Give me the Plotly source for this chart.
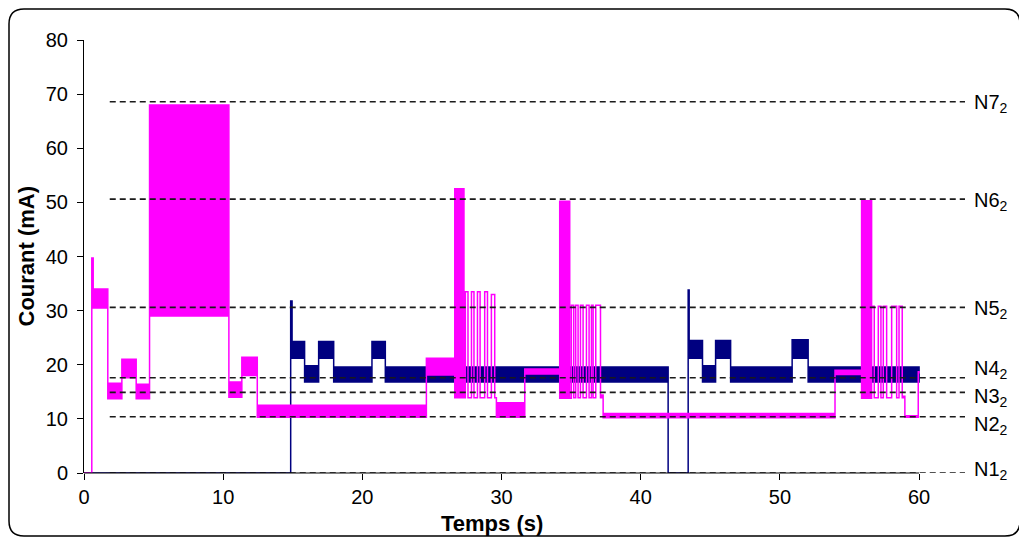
import plotly.graph_objects as go

# ---------------- data ----------------
# Magenta series: contiguous segments (edges), band low / high values (mA)
mag_edges = [0, 0.56, 0.66, 1.71, 2.72, 3.75, 4.71, 10.41, 11.34, 12.45, 24.60, 26.64, 27.30,
             27.40, 27.59, 27.84, 28.02, 28.27, 28.46, 28.79, 28.99, 29.27, 29.51, 29.63,
             31.67, 34.18, 34.90, 35.02, 35.19, 35.33, 35.50, 35.67, 35.86, 36.10, 36.29,
             36.46, 36.58, 36.77, 37.11, 37.30, 53.96, 55.87, 56.59, 56.78, 57.07, 57.26,
             57.43, 57.67, 58.03, 58.39, 58.56, 58.79, 58.98, 59.94, 60.0]
mag_low = [0, 30.5, 30.5, 13.7, 17.6, 13.7, 29.0, 14.0, 18.0, 10.3, 18.1, 13.9,
           13.9, 33.5, 13.9, 33.5, 13.9, 33.5, 13.9, 33.5, 13.9, 33.0, 13.9,
           10.3, 18.3, 13.8, 13.8, 31.0, 13.9, 31.0, 13.9, 31.0, 13.9, 31.0, 13.9,
           31.0, 13.9, 31.0, 13.9, 10.2, 18.2, 13.8, 30.8, 13.9, 30.8, 13.9,
           30.8, 13.9, 30.8, 13.9, 30.8, 13.9, 10.3, 18.5]
mag_high = [0, 39.7, 34.0, 16.6, 21.0, 16.4, 68.0, 16.8, 21.4, 12.5, 21.2, 52.5,
            13.9, 33.5, 13.9, 33.5, 13.9, 33.5, 13.9, 33.5, 13.9, 33.0, 13.9,
            13.0, 19.2, 50.2, 13.8, 31.0, 13.9, 31.0, 13.9, 31.0, 13.9, 31.0, 13.9,
            31.0, 13.9, 31.0, 14.4, 11.0, 19.0, 50.3, 30.8, 13.9, 30.8, 13.9,
            30.8, 13.9, 30.8, 13.9, 30.8, 14.2, 10.6, 18.7]

# Navy series
nav_edges = [0, 14.85, 14.95, 15.85, 16.86, 17.94, 20.69, 21.65, 41.97, 43.41, 43.48,
             44.44, 45.38, 46.46, 50.88, 52.03, 60.0]
nav_low = [0, 21.2, 21.2, 16.8, 21.2, 16.8, 21.2, 16.8, 0, 21.2, 21.2, 16.8, 21.2, 16.8, 21.2, 16.8]
nav_high = [0, 31.8, 24.3, 19.8, 24.3, 19.6, 24.3, 19.6, 0, 33.8, 24.5, 19.8, 24.5, 19.6, 24.6, 19.6]

# Reference levels
level_names = ["N1", "N2", "N3", "N4", "N5", "N6", "N7"]
level_values = [0, 10.4, 14.9, 17.6, 30.6, 50.6, 68.6]
level_start = 1.85
level_end = 63.3

x_ticks = [0, 10, 20, 30, 40, 50, 60]
y_ticks = [0, 10, 20, 30, 40, 50, 60, 70, 80]

# ---------------- style ----------------
MAGENTA = "#FF00FF"
NAVY = "#000080"
FONT = "Liberation Sans, Arial, sans-serif"
label_yshift = [3, -9, -5, 8, -2, -2, -2]

# figure is placed by the page at an 8px offset; pixel frame in figure coordinates
W, H = 1019, 532
L, R, T, B = 76, 957, 32, 465


def band_polygon(edges, low, high):
    xs, ys = [], []
    for i in range(len(low)):
        xs += [edges[i], edges[i + 1]]
        ys += [high[i], high[i]]
    for i in reversed(range(len(low))):
        xs += [edges[i + 1], edges[i]]
        ys += [low[i], low[i]]
    xs.append(xs[0])
    ys.append(ys[0])
    return xs, ys


fig = go.Figure()

nx, ny = band_polygon(nav_edges, nav_low, nav_high)
fig.add_trace(go.Scatter(x=nx, y=ny, mode="lines", fill="toself", fillcolor=NAVY,
                         line=dict(color=NAVY, width=1.5), hoverinfo="skip", showlegend=False))
mx, my = band_polygon(mag_edges, mag_low, mag_high)
fig.add_trace(go.Scatter(x=mx, y=my, mode="lines", fill="toself", fillcolor=MAGENTA,
                         line=dict(color=MAGENTA, width=1.5), hoverinfo="skip", showlegend=False))

for name, v, ys in zip(level_names, level_values, label_yshift):
    fig.add_trace(go.Scatter(x=[level_start, level_end], y=[v, v], mode="lines",
                             line=dict(color="#1a1a1a", width=1.6, dash="6px,4px"),
                             hoverinfo="skip", showlegend=False))
    fig.add_annotation(x=level_end, y=v, xref="x", yref="y", text=f"{name}<sub>2</sub>",
                       showarrow=False, xanchor="left", yanchor="middle", xshift=7, yshift=ys,
                       font=dict(family=FONT, size=20, color="black"))

# x axis line only up to 60
fig.add_shape(type="line", xref="x", yref="paper", x0=x_ticks[0], x1=x_ticks[-1], y0=0, y1=0,
              line=dict(color="black", width=1))


def px(xp):
    return (xp - L) / (R - L)


def py(yp):
    return (B - yp) / (B - T)


# rounded chart border
x0p, x1p, y0p, y1p = px(1), px(1012), py(528), py(1)
rx, ry = 15 / (R - L), 15 / (B - T)
path = (f"M {x0p+rx},{y1p} L {x1p-rx},{y1p} Q {x1p},{y1p} {x1p},{y1p-ry} "
        f"L {x1p},{y0p+ry} Q {x1p},{y0p} {x1p-rx},{y0p} L {x0p+rx},{y0p} "
        f"Q {x0p},{y0p} {x0p},{y0p+ry} L {x0p},{y1p-ry} Q {x0p},{y1p} {x0p+rx},{y1p} Z")
fig.add_shape(type="path", xref="paper", yref="paper", path=path,
              line=dict(color="black", width=1.5))

# axis titles
fig.add_annotation(text="<b>Courant (mA)</b>", xref="paper", yref="paper", x=0, y=0.5,
                   xshift=-58, textangle=-90, showarrow=False, xanchor="center", yanchor="middle",
                   font=dict(family=FONT, size=22, color="black"))
fig.add_annotation(text="<b>Temps (s)</b>", xref="x", yref="paper", x=30, y=0,
                   xshift=-10, yshift=-50, showarrow=False, xanchor="center", yanchor="middle",
                   font=dict(family=FONT, size=22, color="black"))

fig.update_layout(
    width=W, height=H,
    margin=dict(l=L, r=W - R, t=T, b=H - B),
    paper_bgcolor="white", plot_bgcolor="white",
    font=dict(family=FONT, size=20, color="black"),
    xaxis=dict(range=[0, level_end], tickvals=x_ticks, ticks="outside", ticklen=6,
               tickcolor="black", showline=False, showgrid=False, zeroline=False,
               tickfont=dict(family=FONT, size=20, color="black")),
    yaxis=dict(range=[0, 80], tickvals=y_ticks, ticks="outside", ticklen=6,
               tickcolor="black", showline=True, linecolor="black", linewidth=1,
               showgrid=False, zeroline=False, ticklabelstandoff=5,
               tickfont=dict(family=FONT, size=20, color="black")),
)

fig.write_html("out.html")
